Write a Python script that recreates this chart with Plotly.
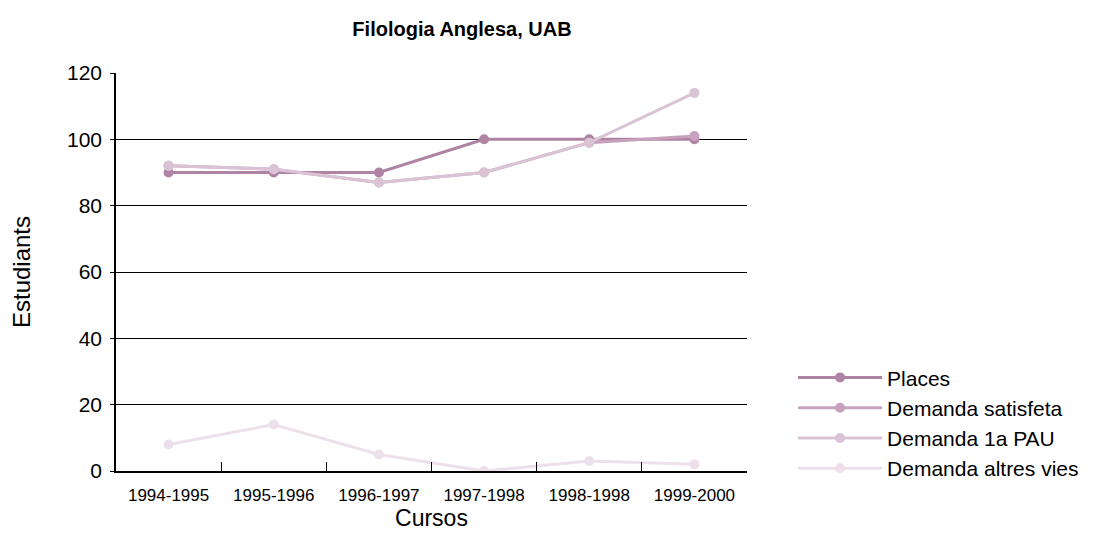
import plotly.graph_objects as go

cursos = ["1994-1995", "1995-1996", "1996-1997", "1997-1998", "1998-1998", "1999-2000"]
places = [90, 90, 90, 100, 100, 100]
demanda_satisfeta = [92, 91, 87, 90, 99, 101]
demanda_1a_pau = [92, 91, 87, 90, 99, 114]
demanda_altres_vies = [8, 14, 5, 0, 3, 2]

series = [
    ("Places", places, "#ae83a4"),
    ("Demanda satisfeta", demanda_satisfeta, "#c7a2bf"),
    ("Demanda 1a PAU", demanda_1a_pau, "#dbc3d6"),
    ("Demanda altres vies", demanda_altres_vies, "#ede0ea"),
]

fig = go.Figure()
for name, vals, col in series:
    fig.add_trace(go.Scatter(
        x=cursos, y=vals, name=name, mode="lines+markers",
        line=dict(color=col, width=3),
        marker=dict(color=col, size=10),
    ))

font_main = "Liberation Sans, Arial, sans-serif"

fig.update_layout(
    width=1112, height=555,
    margin=dict(l=105, r=373, t=65, b=92),
    paper_bgcolor="white", plot_bgcolor="white",
    title=dict(text="<b>Filologia Anglesa, UAB</b>", x=(462 - 8) / 1112, xref="container",
               xanchor="center", y=0.963, yanchor="middle",
               font=dict(family=font_main, size=20, color="black")),
    font=dict(family=font_main, color="black"),
    showlegend=True,
    legend=dict(x=1.073, xanchor="left", y=0.12, yanchor="middle",
                font=dict(family=font_main, size=21, color="black"),
                itemwidth=84, tracegroupgap=0, bgcolor="rgba(0,0,0,0)"),
    xaxis=dict(
        title=dict(text="Cursos", font=dict(family=font_main, size=23), standoff=5),
        type="category", range=[-0.5, len(cursos) - 0.5], autorange=False,
        showline=True, linecolor="black", linewidth=2,
        ticks="inside", ticklen=9, tickcolor="black", tickwidth=1,
        tickson="boundaries", showgrid=False,
        tickfont=dict(family=font_main, size=17),
        ticklabelstandoff=8,
    ),
    yaxis=dict(
        title=dict(text="Estudiants", font=dict(family=font_main, size=24), standoff=30),
        range=[0, 120], dtick=20, zeroline=False,
        showline=True, linecolor="black", linewidth=1.5,
        ticks="outside", ticklen=4, tickcolor="black",
        showgrid=True, gridcolor="black", gridwidth=1,
        tickfont=dict(family=font_main, size=21),
        ticklabelstandoff=4,
    ),
)

fig.write_html("out.html")
